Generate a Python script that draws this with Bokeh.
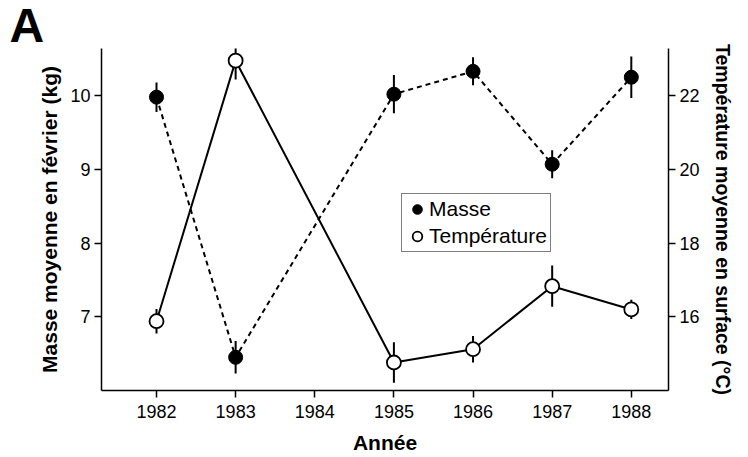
from bokeh.plotting import figure
from bokeh.models import (Range1d, LinearAxis, FixedTicker, Legend, LegendItem,
                          ColumnDataSource)
from bokeh.embed import file_html
from bokeh.resources import INLINE

years = [1982, 1983, 1985, 1986, 1987, 1988]
mass = [9.98, 6.45, 10.02, 10.33, 9.07, 10.25]
mass_err = [0.20, 0.22, 0.26, 0.19, 0.19, 0.28]
temp = [15.88, 22.95, 14.76, 15.12, 16.83, 16.20]
temp_err = [0.33, 0.51, 0.55, 0.36, 0.56, 0.26]
x_ticks = [1982, 1983, 1984, 1985, 1986, 1987, 1988]
mass_ticks = [7, 8, 9, 10]
temp_ticks = [16, 18, 20, 22]

FONT = "Liberation Sans"

src = ColumnDataSource(dict(
    x=years, m=mass,
    m_lo=[m - e for m, e in zip(mass, mass_err)],
    m_hi=[m + e for m, e in zip(mass, mass_err)],
    t=temp,
    t_lo=[t - e for t, e in zip(temp, temp_err)],
    t_hi=[t + e for t, e in zip(temp, temp_err)],
))

p = figure(width=748, height=457, output_backend="svg", toolbar_location=None,
           x_range=Range1d(1981.305, 1988.47), y_range=Range1d(6.0, 10.64),
           min_border_left=101, min_border_right=80, min_border_top=48,
           min_border_bottom=67)
p.extra_y_ranges = {"temp": Range1d(14.0, 23.28)}
p.outline_line_color = None
p.xgrid.visible = False
p.ygrid.visible = False

# panel letter as the title
p.title.text = "A"
p.title.align = "left"
p.title.offset = -92
p.title.standoff = -7
p.title.text_font = FONT
p.title.text_font_size = "48px"
p.title.text_font_style = "bold"
p.title.text_color = "black"

# temperature (solid) and mass (dashed) lines
p.line("x", "t", source=src, y_range_name="temp", line_color="black", line_width=2)
p.line("x", "m", source=src, line_color="black", line_width=2, line_dash="5 4")

# error bars
p.segment("x", "t_lo", "x", "t_hi", source=src, y_range_name="temp",
          line_color="black", line_width=2)
p.segment("x", "m_lo", "x", "m_hi", source=src, line_color="black", line_width=2)

r_m = p.scatter("x", "m", source=src, size=14, fill_color="black",
                line_color="black", line_width=1)
r_t = p.scatter("x", "t", source=src, size=14, fill_color="white",
                line_color="black", line_width=1.8, y_range_name="temp")

# right axis
ax_r = LinearAxis(y_range_name="temp")
p.add_layout(ax_r, "right")

for ax in [p.xaxis[0], p.yaxis[0], ax_r]:
    ax.axis_line_color = "black"
    ax.axis_line_width = 1.5
    ax.major_tick_line_color = "black"
    ax.major_tick_line_width = 1.5
    ax.major_tick_out = 7
    ax.major_tick_in = 0
    ax.minor_tick_line_color = None
    ax.major_label_text_font = FONT
    ax.major_label_text_font_size = "18px"
    ax.major_label_text_color = "black"
    ax.axis_label_text_font = FONT
    ax.axis_label_text_font_style = "bold"
    ax.axis_label_text_color = "black"
    ax.major_label_standoff = 4

p.xaxis[0].axis_label_text_font_size = "21px"
p.yaxis[0].axis_label_text_font_size = "21px"
ax_r.axis_label_text_font_size = "19.5px"
p.xaxis[0].major_label_standoff = 7
p.xaxis[0].axis_label_standoff = 10
p.yaxis[0].axis_label_standoff = 6
ax_r.axis_label_standoff = 9

p.xaxis[0].ticker = FixedTicker(ticks=x_ticks)
p.yaxis[0].ticker = FixedTicker(ticks=mass_ticks)
ax_r.ticker = FixedTicker(ticks=temp_ticks)
p.xaxis[0].axis_label = "Année"
p.yaxis[0].axis_label = "Masse moyenne en février (kg)"
ax_r.axis_label = "Température moyenne en surface (°C)"

legend = Legend(items=[LegendItem(label="Masse", renderers=[r_m]),
                       LegendItem(label="Température", renderers=[r_t])],
                location=(300, 138))
legend.border_line_color = "black"
legend.border_line_width = 1.5
legend.background_fill_alpha = 1
legend.label_text_font = FONT
legend.label_text_font_size = "21px"
legend.label_text_color = "black"
legend.glyph_width = 24
legend.glyph_height = 24
legend.label_height = 24
legend.label_standoff = 0
legend.spacing = 3
legend.padding = 3
legend.margin = 0
p.add_layout(legend)

open("out.html", "w").write(file_html(p, INLINE))
